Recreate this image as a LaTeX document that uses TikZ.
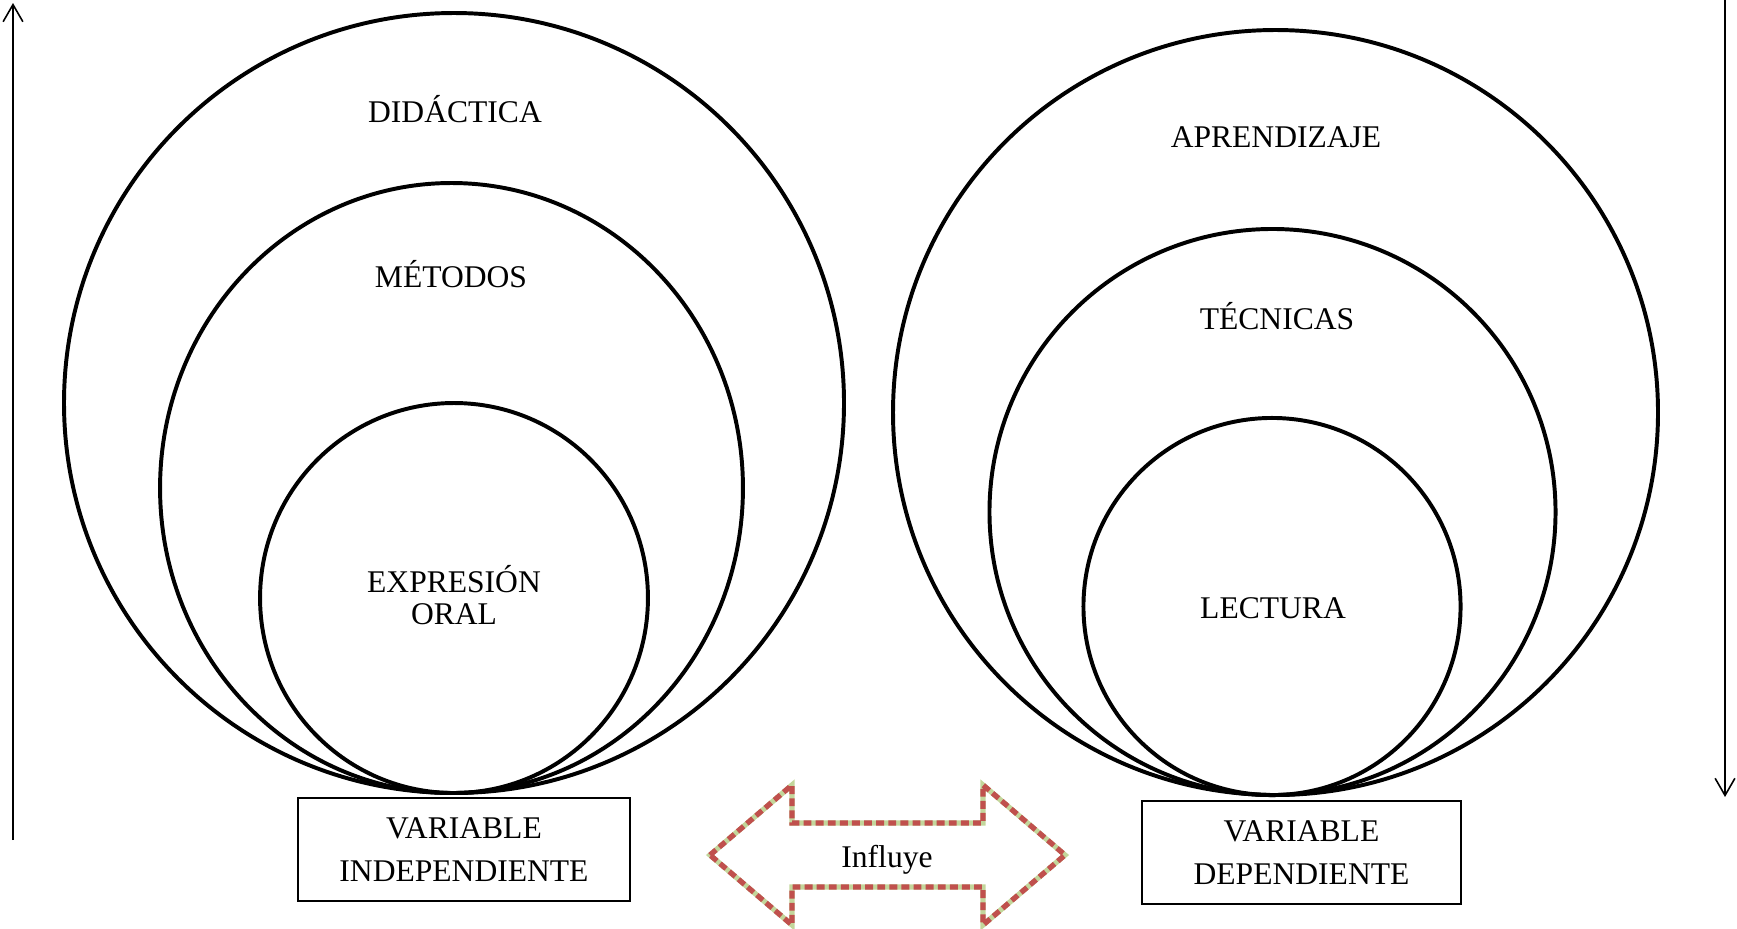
\documentclass[tikz,border=0pt]{standalone}
\usepackage{fontspec}
\setmainfont{Liberation Serif}
\usetikzlibrary{shapes.geometric,arrows.meta}

\definecolor{rojoborde}{RGB}{192,80,77}
\definecolor{verdeborde}{RGB}{195,214,155}

\tikzset{%
  every anillo/.style={
    ellipse,
    draw,
    line width=1.5pt,
    inner sep=0pt
  },
  every rotulo/.style={
    font=\fontsize{12}{12.2}\selectfont,
    align=center,
    inner sep=0pt
  },
  caja variable/.style={
    draw,
    line width=0.8pt,
    minimum height=39.1pt,
    inner sep=0pt,
    align=center,
    font=\fontsize{12}{16.3}\selectfont
  },
  borde influye/.style={
    preaction={draw=verdeborde, line width=2pt},
    draw=rojoborde,
    line width=2pt,
    dash pattern=on 3pt off 1.6pt,
    line join=miter
  },
}

\begin{document}
\begin{tikzpicture}[x=0.38pt, y=-0.38pt, >={Straight Barb[length=6.5pt,width=7.5pt]}]

    \useasboundingbox (0,0) rectangle (1737,928);

    % circulos de la variable independiente
    \foreach \n/\cx/\cy/\w/\h in {didactica/454/403/296.4pt/296.4pt,
                                  metodos/451.5/488/221.5pt/231.8pt,
                                  expresion/454/598/147.4pt/148.2pt}
      \node [every anillo/.try, minimum width=\w, minimum height=\h] (anillo-\n) at (\cx,\cy) {};

    % circulos de la variable dependiente
    \foreach \n/\cx/\cy/\w/\h in {aprendizaje/1275.5/412.5/290.7pt/290.7pt,
                                  tecnicas/1272.5/512/215.1pt/215.1pt,
                                  lectura/1272/606.5/143.3pt/143.3pt}
      \node [every anillo/.try, minimum width=\w, minimum height=\h] (anillo-\n) at (\cx,\cy) {};

    \foreach \n/\l/\cx/\cy in {didactica/DIDÁCTICA/455/122,
                               metodos/MÉTODOS/451/287,
                               aprendizaje/APRENDIZAJE/1276/147,
                               tecnicas/TÉCNICAS/1277/329,
                               lectura/LECTURA/1273/618}
      \node [every rotulo/.try, anchor=base] (rotulo-\n) at (\cx,\cy) {\l};

    \node [every rotulo/.try] (rotulo-expresion) at (454,595) {EXPRESIÓN\\ORAL};

    \node [caja variable, minimum width=126.2pt] (var-indep) at (464,849.5)
      {VARIABLE\\INDEPENDIENTE};
    \node [caja variable, minimum width=121.2pt] (var-dep) at (1301.5,852.5)
      {VARIABLE\\DEPENDIENTE};

    % flecha doble
    \draw [borde influye] (710,855) -- (792,785) -- (792,823) -- (983,823)
      -- (983,785) -- (1065,855) -- (983,925) -- (983,887) -- (792,887)
      -- (792,925) -- cycle;
    \node [every rotulo/.try, anchor=base] (influye) at (887,867) {Influye};

    % ejes laterales
    \coordinate (izq-abajo) at (13,840);
    \coordinate (izq-arriba) at (13,3);
    \coordinate (der-arriba) at (1725,0);
    \coordinate (der-abajo) at (1725,797);
    \draw [->, line width=0.6pt] (izq-abajo) -- (izq-arriba);
    \draw [->, line width=0.6pt] (der-arriba) -- (der-abajo);

\end{tikzpicture}
\end{document}
